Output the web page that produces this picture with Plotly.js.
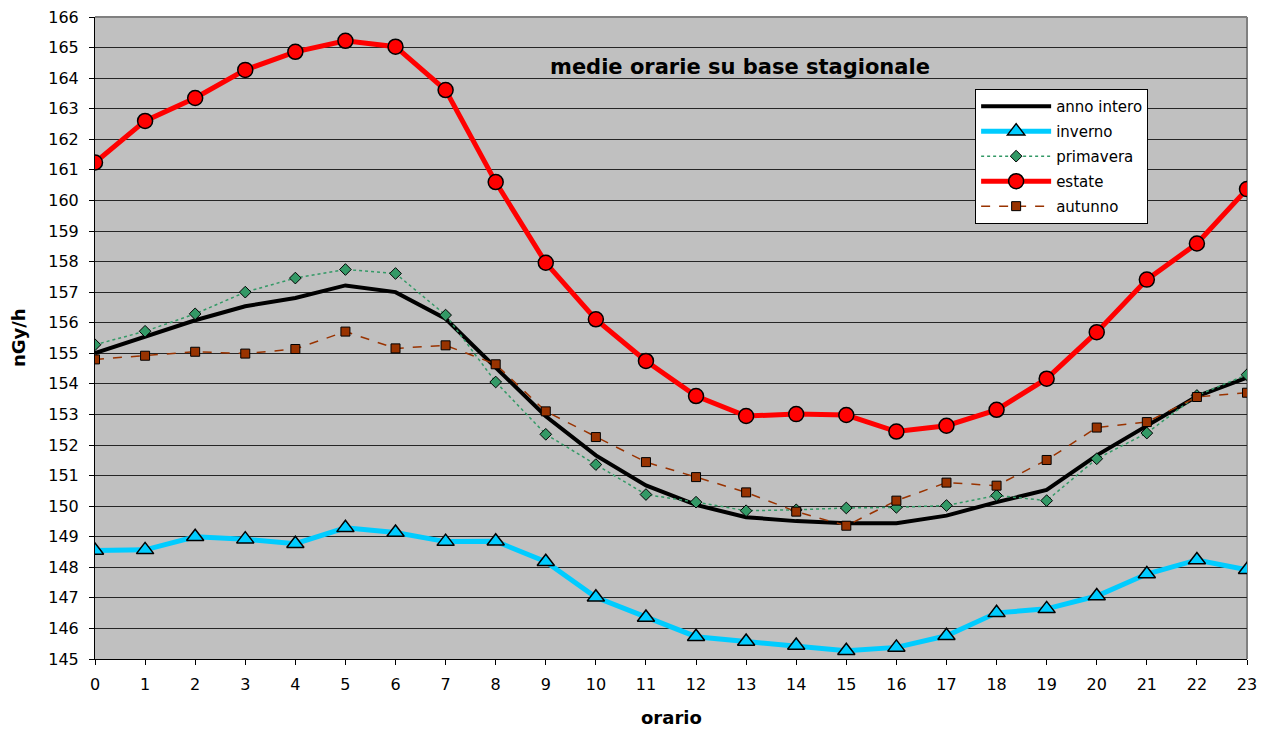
<!DOCTYPE html>
<html>
<head>
<meta charset="utf-8">
<script src="https://cdn.plot.ly/plotly-3.0.1.min.js"></script>
<style>html,body{margin:0;padding:0;background:#fff;}#chart{width:1268px;height:731px;}</style>
</head>
<body>
<div id="chart"></div>
<script>
const hours = [0,1,2,3,4,5,6,7,8,9,10,11,12,13,14,15,16,17,18,19,20,21,22,23];
const annoIntero = [155.01,155.53,156.08,156.54,156.81,157.22,157.00,156.13,154.55,152.94,151.66,150.68,150.04,149.64,149.51,149.44,149.44,149.69,150.13,150.53,151.66,152.61,153.59,154.20];
const inverno = [148.55,148.57,149.00,148.92,148.77,149.29,149.14,148.84,148.85,148.18,147.02,146.36,145.73,145.57,145.44,145.27,145.38,145.76,146.51,146.64,147.06,147.78,148.24,147.92];
const primavera = [155.28,155.72,156.29,157.00,157.46,157.74,157.61,156.25,154.06,152.35,151.36,150.38,150.13,149.85,149.88,149.94,149.96,150.02,150.35,150.18,151.55,152.39,153.62,154.30];
const estate = [161.24,162.60,163.35,164.27,164.86,165.22,165.03,163.61,160.60,157.96,156.11,154.75,153.60,152.95,153.01,152.98,152.44,152.63,153.15,154.17,155.69,157.41,158.59,160.37];
const autunno = [154.80,154.92,155.05,154.99,155.14,155.71,155.16,155.26,154.64,153.10,152.26,151.44,150.95,150.45,149.82,149.36,150.18,150.77,150.67,151.51,152.57,152.75,153.57,153.71];
const tickLabels = hours.map(String);

const font = "DejaVu Sans, Arial, sans-serif";
const traces = [
  {x: hours, y: annoIntero, name: 'anno intero', legendgroup: 'a', mode: 'lines', line: {color: '#000000', width: 4}},
  {x: hours, y: inverno, name: 'inverno', legendgroup: 'b', mode: 'lines+markers', line: {color: '#00CCFF', width: 5},
   marker: {symbol: 'triangle-up', size: 15, color: '#00CCFF', line: {color: '#000000', width: 1.5}}},
  {x: hours, y: primavera, name: 'primavera', legendgroup: 'c', mode: 'lines+markers', line: {color: '#339966', width: 1.5, dash: 'dot'},
   marker: {symbol: 'diamond', size: 9, color: '#339966', line: {color: '#000000', width: 1}}},
  {x: hours, y: estate, name: 'estate', legendgroup: 'd', mode: 'lines+markers', line: {color: '#FF0000', width: 5},
   marker: {symbol: 'circle', size: 15, color: '#FF0000', line: {color: '#000000', width: 1.5}}},
  {x: hours, y: autunno, name: 'autunno', legendgroup: 'e', mode: 'lines+markers', line: {color: '#993300', width: 1.5, dash: 'dash'},
   marker: {symbol: 'square', size: 9, color: '#993300', line: {color: '#000000', width: 1}}}
];

const layout = {
  width: 1268, height: 731,
  margin: {l: 95, r: 21, t: 17, b: 72},
  paper_bgcolor: '#FFFFFF',
  plot_bgcolor: '#C0C0C0',
  font: {family: font, size: 16, color: '#000000'},
  showlegend: true,
  legend: {x: 0.764, y: 0.888, xanchor: 'left', yanchor: 'top', bgcolor: '#FFFFFF',
           bordercolor: '#000000', borderwidth: 1, font: {family: font, size: 15, color: '#000000'},
           itemwidth: 70, tracegroupgap: 2.5},
  xaxis: {range: [0, 23], tickmode: 'array', tickvals: hours, ticktext: tickLabels,
          showgrid: false, zeroline: false, showline: true, linecolor: '#000000', linewidth: 1,
          ticks: 'outside', ticklen: 5, tickcolor: '#000000', ticklabelstandoff: 6,
          tickfont: {family: font, size: 16}},
  yaxis: {range: [145, 166], dtick: 1, tick0: 145, showgrid: true, gridcolor: '#262626', gridwidth: 1,
          zeroline: false, showline: true, linecolor: '#000000', linewidth: 1,
          ticks: 'outside', ticklen: 5, tickcolor: '#000000', ticklabelstandoff: 7,
          tickfont: {family: font, size: 16}},
  shapes: [
    {type: 'line', xref: 'paper', yref: 'paper', x0: 0, x1: 1, y0: 1, y1: 1, line: {color: '#808080', width: 2}, layer: 'below'},
    {type: 'line', xref: 'paper', yref: 'paper', x0: 1, x1: 1, y0: 0, y1: 1, line: {color: '#808080', width: 2}, layer: 'below'}
  ],
  annotations: [
    {text: '<b>medie orarie su base stagionale</b>', xref: 'paper', yref: 'paper', x: 0.56, y: 0.922,
     xanchor: 'center', yanchor: 'middle', showarrow: false, font: {family: font, size: 21, color: '#000'}},
    {text: '<b>orario</b>', xref: 'paper', yref: 'paper', x: 0.5, y: -0.0919,
     xanchor: 'center', yanchor: 'middle', showarrow: false, font: {family: font, size: 18, color: '#000'}},
    {text: '<b>nGy/h</b>', xref: 'paper', yref: 'paper', x: -0.0668, y: 0.5, textangle: -90,
     xanchor: 'center', yanchor: 'middle', showarrow: false, font: {family: font, size: 18, color: '#000'}}
  ]
};

Plotly.newPlot('chart', traces, layout, {displayModeBar: false, staticPlot: true});
</script>
</body>
</html>
